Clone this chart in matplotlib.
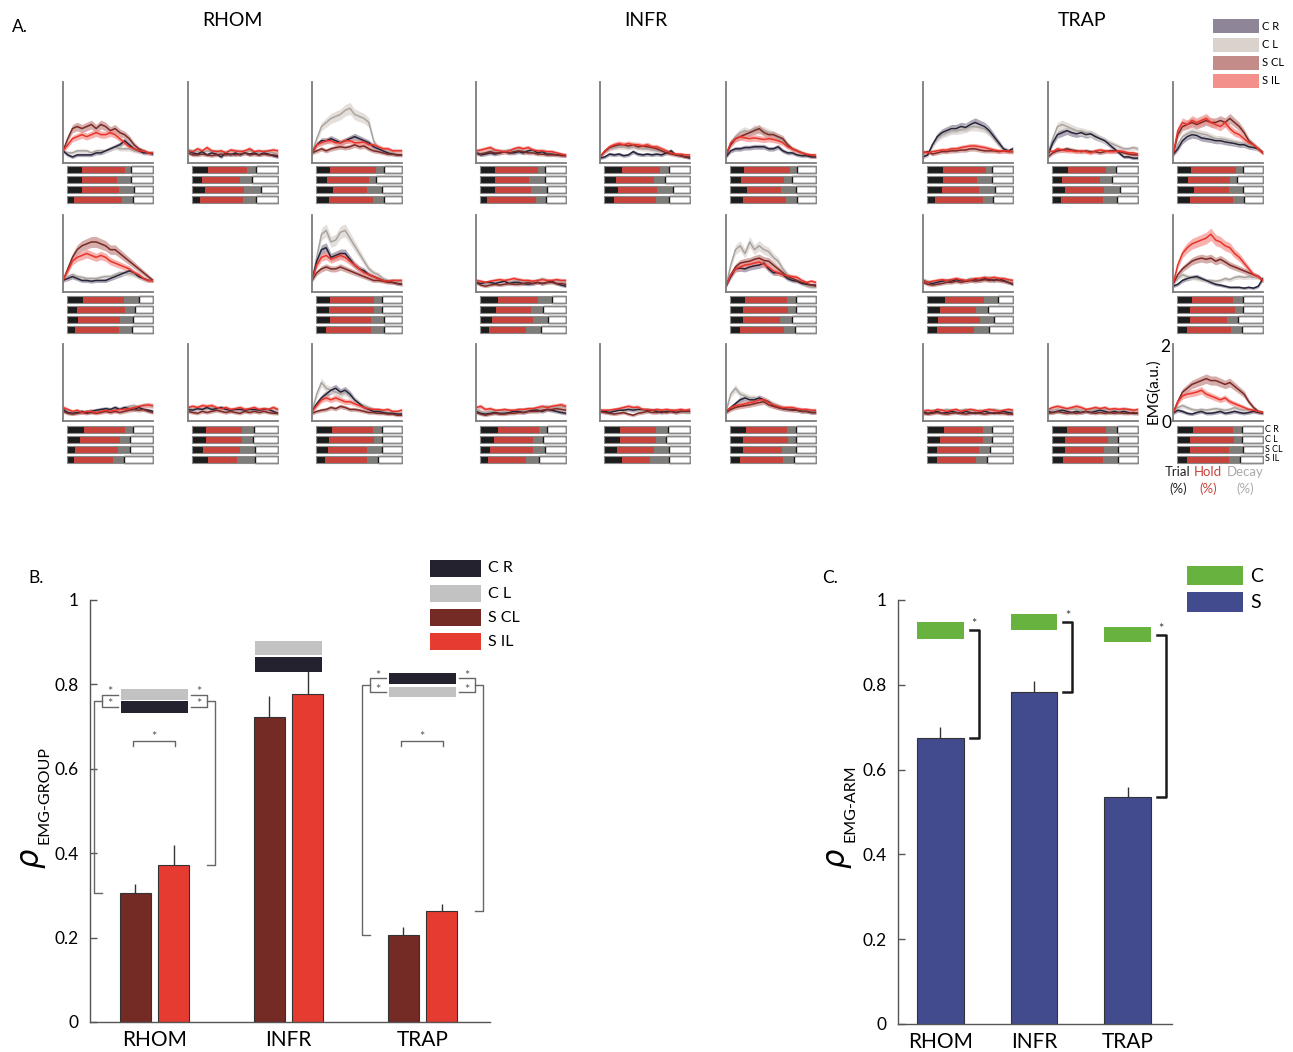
import matplotlib
matplotlib.use('Agg')
import matplotlib.pyplot as plt
from matplotlib.patches import Rectangle
import numpy as np

plt.rcParams['font.family'] = ['Lato', 'DejaVu Sans']

# ---- A: mean EMG traces (a.u.), order C R, C L, S CL, S IL ----
rhom_r1c1 = [
    [0.3,0.2,0.15,0.2,0.2,0.2,0.2,0.25,0.25,0.3,0.35,0.4,0.45,0.55,0.45,0.35,0.3,0.25,0.25,0.22],
    [0.3,0.25,0.25,0.3,0.3,0.3,0.25,0.3,0.3,0.3,0.35,0.4,0.35,0.35,0.35,0.3,0.3,0.28,0.25,0.25],
    [0.3,0.6,0.85,0.9,0.85,0.9,0.95,0.85,0.95,0.9,0.8,0.85,0.75,0.7,0.6,0.45,0.35,0.3,0.25,0.25],
    [0.3,0.45,0.6,0.65,0.7,0.65,0.7,0.75,0.7,0.7,0.75,0.7,0.6,0.5,0.4,0.35,0.3,0.3,0.25,0.25]]
rhom_r1c2 = [
    [0.3,0.25,0.22,0.28,0.2,0.25,0.22,0.15,0.25,0.2,0.25,0.2,0.25,0.22,0.25,0.2,0.25,0.22,0.18,0.15],
    [0.32,0.3,0.28,0.25,0.3,0.28,0.3,0.25,0.28,0.3,0.28,0.3,0.25,0.3,0.28,0.25,0.3,0.28,0.25,0.22],
    [0.25,0.2,0.2,0.22,0.2,0.18,0.2,0.22,0.2,0.22,0.2,0.22,0.25,0.2,0.22,0.2,0.22,0.2,0.2,0.18],
    [0.3,0.28,0.35,0.3,0.38,0.3,0.28,0.3,0.25,0.32,0.3,0.28,0.3,0.35,0.28,0.3,0.28,0.3,0.32,0.3]]
rhom_r1c3 = [
    [0.25,0.45,0.55,0.55,0.6,0.55,0.5,0.55,0.6,0.65,0.6,0.55,0.5,0.4,0.35,0.3,0.25,0.22,0.2,0.2],
    [0.25,0.6,0.9,1.0,1.1,1.15,1.2,1.3,1.35,1.2,1.15,1.1,1.0,0.55,0.35,0.3,0.28,0.25,0.22,0.2],
    [0.25,0.3,0.35,0.3,0.35,0.38,0.4,0.38,0.4,0.45,0.4,0.42,0.35,0.3,0.28,0.25,0.22,0.22,0.2,0.2],
    [0.25,0.45,0.5,0.55,0.55,0.5,0.5,0.55,0.55,0.5,0.5,0.52,0.45,0.45,0.4,0.35,0.35,0.3,0.3,0.3]]
rhom_r2c1 = [
    [0.3,0.35,0.4,0.35,0.3,0.3,0.28,0.3,0.3,0.3,0.35,0.4,0.45,0.5,0.55,0.5,0.4,0.35,0.3,0.3],
    [0.3,0.4,0.45,0.4,0.38,0.35,0.35,0.35,0.38,0.4,0.4,0.45,0.5,0.5,0.48,0.45,0.4,0.35,0.3,0.3],
    [0.3,0.6,0.9,1.1,1.2,1.25,1.3,1.3,1.25,1.2,1.1,1.1,1.0,0.9,0.8,0.7,0.6,0.5,0.4,0.3],
    [0.3,0.55,0.8,0.9,0.95,1.0,0.95,0.9,0.95,0.9,0.8,0.75,0.7,0.65,0.6,0.5,0.45,0.35,0.3,0.3]]
rhom_r2c3 = [
    [0.3,0.8,1.1,1.15,0.9,0.95,1.0,1.0,0.85,0.7,0.6,0.55,0.45,0.4,0.35,0.3,0.28,0.25,0.22,0.2],
    [0.3,0.9,1.5,1.6,1.3,1.35,1.55,1.6,1.4,1.2,1.0,0.8,0.6,0.5,0.45,0.35,0.3,0.3,0.28,0.25],
    [0.3,0.5,0.6,0.65,0.6,0.6,0.65,0.6,0.55,0.5,0.45,0.4,0.35,0.3,0.3,0.28,0.25,0.25,0.22,0.2],
    [0.3,0.7,0.9,0.95,0.85,0.9,0.95,0.9,0.8,0.7,0.6,0.5,0.45,0.4,0.35,0.3,0.28,0.3,0.3,0.3]]
rhom_r3c1 = [
    [0.3,0.22,0.2,0.22,0.25,0.22,0.25,0.28,0.3,0.32,0.3,0.35,0.3,0.35,0.32,0.3,0.35,0.3,0.28,0.25],
    [0.35,0.25,0.2,0.25,0.22,0.25,0.28,0.25,0.28,0.3,0.28,0.3,0.32,0.35,0.38,0.4,0.35,0.42,0.4,0.38],
    [0.25,0.2,0.18,0.2,0.22,0.2,0.22,0.2,0.22,0.25,0.22,0.25,0.22,0.25,0.28,0.3,0.28,0.3,0.25,0.22],
    [0.35,0.3,0.25,0.28,0.22,0.25,0.25,0.22,0.25,0.28,0.25,0.28,0.3,0.3,0.32,0.35,0.38,0.4,0.42,0.4]]
rhom_r3c2 = [
    [0.3,0.28,0.32,0.3,0.35,0.3,0.32,0.35,0.3,0.28,0.3,0.3,0.28,0.3,0.3,0.28,0.3,0.3,0.25,0.2],
    [0.35,0.3,0.35,0.32,0.3,0.35,0.32,0.3,0.32,0.3,0.3,0.32,0.3,0.3,0.28,0.3,0.32,0.3,0.35,0.28],
    [0.25,0.22,0.2,0.25,0.22,0.25,0.28,0.25,0.22,0.25,0.22,0.2,0.25,0.22,0.25,0.22,0.25,0.22,0.2,0.2],
    [0.35,0.38,0.35,0.4,0.38,0.4,0.35,0.32,0.35,0.3,0.32,0.35,0.3,0.32,0.35,0.3,0.32,0.3,0.35,0.3]]
rhom_r3c3 = [
    [0.25,0.45,0.6,0.7,0.8,0.85,0.75,0.8,0.7,0.55,0.45,0.35,0.3,0.25,0.25,0.22,0.2,0.2,0.18,0.18],
    [0.25,0.7,1.0,0.85,0.8,0.75,0.7,0.75,0.65,0.55,0.45,0.4,0.35,0.3,0.28,0.25,0.22,0.22,0.2,0.2],
    [0.2,0.25,0.28,0.3,0.35,0.32,0.38,0.35,0.3,0.3,0.28,0.25,0.22,0.22,0.2,0.2,0.18,0.18,0.15,0.15],
    [0.25,0.4,0.55,0.6,0.55,0.6,0.55,0.5,0.5,0.45,0.4,0.35,0.32,0.3,0.3,0.28,0.3,0.25,0.25,0.28]]

infr_r1c1 = [
    [0.25,0.2,0.22,0.25,0.22,0.25,0.28,0.25,0.25,0.28,0.25,0.3,0.32,0.25,0.28,0.22,0.22,0.2,0.2,0.18],
    [0.28,0.25,0.25,0.3,0.3,0.28,0.3,0.32,0.3,0.32,0.3,0.3,0.28,0.28,0.25,0.25,0.22,0.22,0.2,0.2],
    [0.25,0.22,0.25,0.28,0.25,0.25,0.28,0.25,0.28,0.3,0.28,0.25,0.25,0.22,0.22,0.2,0.2,0.2,0.18,0.18],
    [0.3,0.32,0.35,0.38,0.32,0.3,0.28,0.3,0.35,0.38,0.35,0.38,0.32,0.3,0.3,0.28,0.28,0.25,0.22,0.2]]
infr_r1c2 = [
    [0.12,0.15,0.22,0.2,0.22,0.18,0.2,0.28,0.22,0.2,0.22,0.2,0.22,0.2,0.25,0.3,0.2,0.18,0.15,0.12],
    [0.15,0.3,0.35,0.38,0.4,0.4,0.38,0.4,0.38,0.35,0.35,0.32,0.3,0.3,0.28,0.25,0.2,0.18,0.18,0.15],
    [0.15,0.28,0.38,0.42,0.45,0.45,0.42,0.45,0.4,0.42,0.4,0.38,0.35,0.3,0.25,0.22,0.2,0.18,0.15,0.15],
    [0.15,0.3,0.4,0.45,0.48,0.45,0.48,0.45,0.45,0.42,0.45,0.4,0.4,0.35,0.3,0.25,0.22,0.22,0.2,0.2]]
infr_r1c3 = [
    [0.15,0.3,0.35,0.35,0.38,0.38,0.4,0.4,0.4,0.35,0.35,0.4,0.3,0.25,0.25,0.2,0.18,0.18,0.15,0.15],
    [0.2,0.5,0.65,0.75,0.8,0.75,0.85,0.8,0.8,0.75,0.7,0.6,0.55,0.45,0.35,0.3,0.25,0.22,0.18,0.15],
    [0.2,0.45,0.6,0.65,0.7,0.75,0.8,0.85,0.75,0.7,0.7,0.65,0.6,0.45,0.35,0.3,0.25,0.2,0.18,0.15],
    [0.2,0.5,0.6,0.65,0.62,0.6,0.62,0.6,0.58,0.6,0.58,0.55,0.5,0.4,0.35,0.3,0.25,0.22,0.2,0.2]]
infr_r2c1 = [
    [0.25,0.22,0.25,0.25,0.22,0.25,0.28,0.22,0.25,0.25,0.22,0.2,0.22,0.25,0.22,0.25,0.28,0.22,0.18,0.15],
    [0.28,0.22,0.2,0.22,0.25,0.25,0.28,0.25,0.28,0.3,0.28,0.25,0.28,0.3,0.35,0.3,0.28,0.3,0.28,0.25],
    [0.25,0.18,0.15,0.18,0.2,0.18,0.2,0.22,0.2,0.2,0.22,0.25,0.22,0.25,0.22,0.25,0.25,0.22,0.22,0.2],
    [0.3,0.28,0.25,0.28,0.3,0.32,0.3,0.32,0.35,0.32,0.3,0.3,0.28,0.3,0.32,0.3,0.3,0.32,0.3,0.3]]
infr_r2c3 = [
    [0.15,0.4,0.6,0.62,0.6,0.65,0.68,0.7,0.75,0.6,0.5,0.5,0.45,0.35,0.3,0.28,0.22,0.2,0.18,0.18],
    [0.15,0.7,1.1,1.2,1.0,1.3,1.1,1.2,1.1,1.05,0.9,0.8,0.6,0.45,0.35,0.3,0.22,0.15,0.12,0.12],
    [0.15,0.45,0.65,0.75,0.78,0.8,0.85,0.88,0.82,0.8,0.7,0.6,0.5,0.4,0.35,0.3,0.25,0.22,0.18,0.15],
    [0.15,0.45,0.6,0.65,0.7,0.72,0.75,0.78,0.72,0.65,0.55,0.5,0.45,0.42,0.4,0.38,0.3,0.25,0.28,0.25]]
infr_r3c1 = [
    [0.25,0.2,0.18,0.2,0.22,0.2,0.2,0.22,0.25,0.25,0.22,0.25,0.28,0.28,0.25,0.3,0.28,0.25,0.22,0.2],
    [0.3,0.25,0.22,0.25,0.25,0.28,0.25,0.28,0.25,0.3,0.28,0.3,0.32,0.3,0.35,0.38,0.35,0.35,0.38,0.35],
    [0.22,0.18,0.15,0.18,0.2,0.18,0.18,0.2,0.2,0.22,0.22,0.25,0.25,0.25,0.28,0.3,0.3,0.32,0.3,0.28],
    [0.35,0.38,0.3,0.32,0.28,0.28,0.3,0.28,0.28,0.3,0.3,0.32,0.32,0.35,0.38,0.35,0.38,0.4,0.42,0.38]]
infr_r3c2 = [
    [0.25,0.25,0.22,0.25,0.28,0.28,0.3,0.28,0.3,0.3,0.28,0.28,0.25,0.22,0.25,0.25,0.22,0.25,0.25,0.25],
    [0.28,0.25,0.25,0.28,0.28,0.3,0.3,0.32,0.3,0.28,0.3,0.28,0.28,0.28,0.25,0.28,0.25,0.28,0.22,0.22],
    [0.25,0.22,0.2,0.18,0.2,0.22,0.18,0.15,0.2,0.22,0.25,0.22,0.22,0.25,0.22,0.25,0.22,0.25,0.25,0.25],
    [0.28,0.28,0.28,0.3,0.32,0.35,0.38,0.35,0.36,0.3,0.3,0.28,0.3,0.28,0.3,0.28,0.28,0.3,0.28,0.3]]
infr_r3c3 = [
    [0.25,0.35,0.45,0.55,0.6,0.55,0.55,0.6,0.55,0.5,0.4,0.35,0.32,0.3,0.3,0.28,0.25,0.25,0.22,0.22],
    [0.25,0.7,0.85,0.7,0.65,0.6,0.6,0.55,0.55,0.5,0.45,0.4,0.35,0.3,0.3,0.3,0.28,0.28,0.25,0.25],
    [0.22,0.3,0.35,0.38,0.4,0.42,0.45,0.48,0.5,0.42,0.38,0.35,0.32,0.3,0.28,0.28,0.25,0.25,0.22,0.22],
    [0.25,0.35,0.4,0.42,0.45,0.48,0.5,0.55,0.55,0.48,0.42,0.38,0.35,0.35,0.35,0.32,0.3,0.3,0.28,0.28]]

trap_r1c1 = [
    [0.15,0.2,0.45,0.65,0.75,0.8,0.85,0.85,0.9,0.88,0.95,1.0,0.95,0.9,0.8,0.65,0.5,0.35,0.3,0.35],
    [0.15,0.2,0.45,0.6,0.7,0.75,0.8,0.8,0.82,0.85,0.9,0.9,0.88,0.85,0.75,0.6,0.45,0.35,0.3,0.3],
    [0.25,0.28,0.22,0.25,0.28,0.28,0.3,0.3,0.32,0.32,0.35,0.35,0.32,0.3,0.3,0.3,0.28,0.3,0.28,0.28],
    [0.28,0.25,0.28,0.3,0.32,0.32,0.35,0.35,0.38,0.4,0.42,0.42,0.4,0.38,0.35,0.32,0.3,0.3,0.3,0.28]]
trap_r1c2 = [
    [0.2,0.5,0.7,0.75,0.8,0.75,0.72,0.75,0.7,0.72,0.65,0.6,0.55,0.45,0.35,0.25,0.15,0.15,0.12,0.12],
    [0.25,0.6,0.9,0.95,0.9,0.85,0.8,0.78,0.75,0.72,0.68,0.6,0.55,0.5,0.45,0.4,0.35,0.35,0.38,0.35],
    [0.15,0.25,0.3,0.32,0.35,0.32,0.3,0.28,0.3,0.28,0.28,0.25,0.28,0.3,0.3,0.28,0.25,0.22,0.2,0.2],
    [0.3,0.28,0.35,0.32,0.3,0.3,0.28,0.3,0.28,0.25,0.3,0.32,0.3,0.28,0.28,0.3,0.28,0.25,0.25,0.22]]
trap_r1c3 = [
    [0.2,0.35,0.55,0.65,0.7,0.68,0.62,0.6,0.58,0.55,0.55,0.52,0.5,0.48,0.45,0.45,0.4,0.38,0.35,0.25],
    [0.2,0.45,0.65,0.72,0.78,0.75,0.72,0.7,0.65,0.6,0.6,0.58,0.55,0.52,0.5,0.48,0.45,0.4,0.35,0.25],
    [0.2,0.7,0.9,0.95,1.0,0.95,1.0,1.05,1.0,1.0,1.05,1.0,1.1,1.0,0.9,0.75,0.55,0.45,0.35,0.25],
    [0.2,0.8,1.0,0.95,1.05,1.0,1.05,1.1,1.0,0.95,0.9,1.0,0.85,0.75,0.7,0.6,0.5,0.45,0.35,0.25]]
trap_r2c1 = [
    [0.3,0.25,0.22,0.25,0.28,0.3,0.28,0.32,0.3,0.28,0.3,0.32,0.3,0.35,0.32,0.3,0.35,0.3,0.25,0.2],
    [0.32,0.28,0.25,0.28,0.3,0.3,0.32,0.3,0.32,0.3,0.35,0.32,0.35,0.35,0.38,0.35,0.32,0.3,0.3,0.28],
    [0.25,0.2,0.18,0.2,0.22,0.25,0.25,0.28,0.25,0.28,0.3,0.28,0.3,0.32,0.3,0.32,0.3,0.28,0.25,0.22],
    [0.3,0.25,0.28,0.3,0.32,0.3,0.32,0.35,0.32,0.3,0.32,0.35,0.35,0.38,0.35,0.38,0.35,0.35,0.32,0.3]]
trap_r2c3 = [
    [0.15,0.2,0.3,0.35,0.38,0.4,0.35,0.3,0.25,0.2,0.18,0.15,0.12,0.12,0.12,0.1,0.12,0.1,0.15,0.35],
    [0.2,0.35,0.45,0.4,0.38,0.35,0.32,0.3,0.3,0.28,0.3,0.35,0.32,0.38,0.4,0.38,0.4,0.38,0.4,0.3],
    [0.2,0.45,0.6,0.7,0.8,0.85,0.88,0.85,0.88,0.8,0.85,0.78,0.7,0.65,0.6,0.55,0.5,0.45,0.4,0.3],
    [0.2,0.7,1.0,1.15,1.25,1.3,1.35,1.4,1.5,1.35,1.3,1.2,1.15,1.0,0.9,0.75,0.6,0.45,0.4,0.3]]
trap_r3c1 = [
    [0.25,0.2,0.22,0.25,0.2,0.22,0.25,0.22,0.2,0.25,0.22,0.2,0.22,0.25,0.22,0.2,0.22,0.25,0.22,0.2],
    [0.28,0.25,0.28,0.25,0.28,0.3,0.28,0.25,0.28,0.3,0.28,0.25,0.28,0.25,0.28,0.3,0.28,0.25,0.25,0.25],
    [0.2,0.18,0.2,0.22,0.2,0.18,0.2,0.22,0.2,0.18,0.2,0.22,0.2,0.18,0.2,0.22,0.2,0.2,0.18,0.18],
    [0.25,0.28,0.25,0.3,0.28,0.25,0.28,0.3,0.25,0.28,0.3,0.28,0.25,0.28,0.3,0.28,0.25,0.28,0.3,0.28]]
trap_r3c2 = [
    [0.25,0.22,0.25,0.28,0.25,0.22,0.25,0.22,0.25,0.22,0.25,0.28,0.25,0.22,0.25,0.22,0.25,0.22,0.2,0.2],
    [0.3,0.28,0.3,0.28,0.3,0.32,0.3,0.28,0.3,0.28,0.3,0.28,0.3,0.3,0.28,0.3,0.28,0.3,0.28,0.28],
    [0.2,0.22,0.25,0.22,0.2,0.22,0.2,0.22,0.25,0.22,0.2,0.22,0.2,0.22,0.2,0.22,0.2,0.2,0.22,0.2],
    [0.3,0.35,0.38,0.35,0.32,0.35,0.38,0.35,0.3,0.32,0.35,0.32,0.35,0.3,0.32,0.3,0.32,0.3,0.28,0.3]]
trap_r3c3 = [
    [0.2,0.28,0.25,0.2,0.18,0.22,0.25,0.2,0.2,0.22,0.25,0.2,0.22,0.25,0.22,0.2,0.22,0.25,0.22,0.2],
    [0.25,0.35,0.4,0.35,0.3,0.28,0.3,0.28,0.3,0.32,0.3,0.28,0.3,0.35,0.3,0.28,0.3,0.28,0.25,0.22],
    [0.2,0.5,0.75,0.85,0.95,1.0,1.05,1.1,1.05,1.05,1.0,0.95,1.0,0.9,0.8,0.7,0.5,0.35,0.25,0.22],
    [0.2,0.5,0.65,0.7,0.72,0.75,0.8,0.7,0.65,0.6,0.55,0.6,0.5,0.45,0.4,0.35,0.3,0.28,0.25,0.22]]

# ---- A: phase fractions (trial, hold, decay) per condition C R, C L, S CL, S IL ----
rhom_r1c1_phase = [(.18,.49,.07), (.18,.40,.165), (.18,.42,.18), (.09,.55,.12)]
rhom_r1c2_phase = [(.19,.45,.10), (.12,.44,.14), (.15,.45,.20), (.10,.49,.15)]
rhom_r1c3_phase = [(.17,.52,.10), (.13,.49,.08), (.20,.39,.18), (.16,.50,.13)]
rhom_r2c1_phase = [(.19,.47,.17), (.12,.55,.12), (.13,.48,.15), (.10,.50,.15)]
rhom_r2c3_phase = [(.17,.50,.10), (.15,.52,.10), (.17,.47,.15), (.12,.52,.15)]
rhom_r3c1_phase = [(.20,.47,.10), (.16,.45,.12), (.10,.49,.14), (.09,.44,.13)]
rhom_r3c2_phase = [(.17,.41,.14), (.17,.41,.13), (.13,.43,.17), (.19,.33,.21)]
rhom_r3c3_phase = [(.19,.47,.11), (.16,.51,.10), (.14,.45,.17), (.11,.48,.13)]
infr_r1c1_phase = [(.18,.49,.08), (.18,.39,.18), (.18,.41,.19), (.09,.56,.11)]
infr_r1c2_phase = [(.21,.44,.10), (.14,.44,.13), (.17,.45,.18), (.12,.48,.15)]
infr_r1c3_phase = [(.17,.52,.09), (.13,.50,.09), (.20,.39,.17), (.15,.50,.13)]
infr_r2c1_phase = [(.21,.46,.16), (.19,.40,.14), (.14,.48,.17), (.11,.43,.17)]
infr_r2c3_phase = [(.18,.48,.11), (.16,.51,.09), (.16,.42,.14), (.12,.51,.12)]
infr_r3c1_phase = [(.21,.47,.10), (.17,.45,.11), (.12,.49,.14), (.10,.44,.14)]
infr_r3c2_phase = [(.19,.41,.14), (.19,.41,.12), (.15,.43,.17), (.21,.33,.21)]
infr_r3c3_phase = [(.19,.47,.11), (.16,.51,.10), (.15,.45,.17), (.12,.49,.13)]
trap_r1c1_phase = [(.19,.49,.07), (.19,.39,.17), (.18,.42,.19), (.10,.55,.12)]
trap_r1c2_phase = [(.19,.44,.11), (.12,.44,.14), (.16,.44,.19), (.11,.48,.16)]
trap_r1c3_phase = [(.17,.51,.09), (.13,.49,.08), (.20,.40,.17), (.15,.50,.13)]
trap_r2c1_phase = [(.21,.45,.16), (.16,.41,.14), (.13,.48,.17), (.12,.43,.17)]
trap_r2c3_phase = [(.18,.47,.12), (.16,.51,.09), (.16,.42,.13), (.12,.51,.12)]
trap_r3c1_phase = [(.20,.45,.10), (.15,.50,.10), (.12,.48,.13), (.12,.45,.12)]
trap_r3c2_phase = [(.18,.45,.12), (.15,.50,.12), (.15,.45,.16), (.13,.46,.17)]
trap_r3c3_phase = [(.19,.46,.10), (.16,.50,.09), (.15,.45,.16), (.12,.48,.13)]

conditions = ['C R', 'C L', 'S CL', 'S IL']

# ---- B: EMG-group correlation ----
groups = ['RHOM', 'INFR', 'TRAP']
scl_mean = [0.305, 0.723, 0.205]
scl_err = [0.022, 0.050, 0.020]
sil_mean = [0.372, 0.777, 0.263]
sil_err = [0.048, 0.055, 0.016]
cr_ref = [0.747, 0.847, 0.815]
cr_ref_sem = [0.014, 0.018, 0.013]
cl_ref = [0.776, 0.886, 0.781]
cl_ref_sem = [0.013, 0.017, 0.012]
sig_groups = ['RHOM', 'TRAP']

# ---- C: EMG-arm correlation ----
arm_mean = [0.675, 0.783, 0.535]
arm_err = [0.025, 0.027, 0.025]
c_ref = [0.929, 0.948, 0.918]
c_ref_sem = [0.020, 0.019, 0.018]

LINE_COLORS = ['#26243a', '#a9a4a0', '#7b2a26', '#e8342a']
BAND_COLORS = ['#8e8599', '#d9d2cd', '#c48c88', '#f4908c']
TRIAL_C, HOLD_C, DECAY_C = '#1c1c1c', '#c8433c', '#7f7d7a'

W, H = 1293, 1052
fig = plt.figure(figsize=(W / 100, H / 100), dpi=100)


def px_axes(x0, y0, x1, y1):
    return fig.add_axes([x0 / W, 1 - y1 / H, (x1 - x0) / W, (y1 - y0) / H])


def px_text(x, y, s, **kw):
    kw.setdefault('ha', 'center')
    kw.setdefault('va', 'center')
    fig.text(x / W, 1 - y / H, s, **kw)


def px_rect(x0, y0, x1, y1, color):
    fig.add_artist(Rectangle((x0 / W, 1 - y1 / H), (x1 - x0) / W, (y1 - y0) / H,
                             transform=fig.transFigure, facecolor=color, edgecolor='none'))


ROW_TOP = [82, 215, 344]
ROW_BOT = [163, 292, 421]
BAR_TOP = [164.5, 294.5, 424.5]
COL_X = {'RHOM': [63, 188, 312], 'INFR': [476, 600, 726], 'TRAP': [923, 1048, 1173]}


def draw_panel(muscle, row, col, traces, phases):
    x0 = COL_X[muscle][col]
    ax = px_axes(x0, ROW_TOP[row], x0 + 90, ROW_BOT[row])
    t = np.arange(len(traces[0]))
    for k in range(4):
        y = np.array(traces[k])
        sem = 0.025 + 0.09 * y
        ax.fill_between(t, y - sem, y + sem, color=BAND_COLORS[k], alpha=0.7, lw=0)
    for k in [1, 0, 2, 3]:
        ax.plot(t, traces[k], color=LINE_COLORS[k], lw=1.1)
    ax.set_xlim(0, len(t) - 1)
    ax.set_ylim(0, 2)
    ax.set_xticks([])
    ax.set_yticks([])
    for s in ['top', 'right']:
        ax.spines[s].set_visible(False)
    for s in ['left', 'bottom']:
        ax.spines[s].set_color('#7c7c7c')
        ax.spines[s].set_linewidth(1.3)
    ax.patch.set_alpha(0)

    bx = px_axes(x0 + 3, BAR_TOP[row], x0 + 91, BAR_TOP[row] + 40)
    bx.set_xlim(-0.006, 1.006)
    bx.set_ylim(3.5, -0.5)
    bx.axis('off')
    for i, (tr, ho, de) in enumerate(phases):
        bx.barh(i, tr, left=0, height=0.7, color=TRIAL_C, lw=0)
        bx.barh(i, ho, left=tr, height=0.7, color=HOLD_C, lw=0)
        bx.barh(i, de, left=tr + ho, height=0.7, color=DECAY_C, lw=0)
        bx.barh(i, 1 - tr - ho - de, left=tr + ho + de, height=0.7, color='white',
                edgecolor='#1a1a1a', lw=1.0)
        bx.barh(i, 1, left=0, height=0.7, fill=False, edgecolor='#8a8a8a', lw=0.8)
    return ax


panels = [
    ('RHOM', 0, 0, rhom_r1c1, rhom_r1c1_phase), ('RHOM', 0, 1, rhom_r1c2, rhom_r1c2_phase),
    ('RHOM', 0, 2, rhom_r1c3, rhom_r1c3_phase), ('RHOM', 1, 0, rhom_r2c1, rhom_r2c1_phase),
    ('RHOM', 1, 2, rhom_r2c3, rhom_r2c3_phase), ('RHOM', 2, 0, rhom_r3c1, rhom_r3c1_phase),
    ('RHOM', 2, 1, rhom_r3c2, rhom_r3c2_phase), ('RHOM', 2, 2, rhom_r3c3, rhom_r3c3_phase),
    ('INFR', 0, 0, infr_r1c1, infr_r1c1_phase), ('INFR', 0, 1, infr_r1c2, infr_r1c2_phase),
    ('INFR', 0, 2, infr_r1c3, infr_r1c3_phase), ('INFR', 1, 0, infr_r2c1, infr_r2c1_phase),
    ('INFR', 1, 2, infr_r2c3, infr_r2c3_phase), ('INFR', 2, 0, infr_r3c1, infr_r3c1_phase),
    ('INFR', 2, 1, infr_r3c2, infr_r3c2_phase), ('INFR', 2, 2, infr_r3c3, infr_r3c3_phase),
    ('TRAP', 0, 0, trap_r1c1, trap_r1c1_phase), ('TRAP', 0, 1, trap_r1c2, trap_r1c2_phase),
    ('TRAP', 0, 2, trap_r1c3, trap_r1c3_phase), ('TRAP', 1, 0, trap_r2c1, trap_r2c1_phase),
    ('TRAP', 1, 2, trap_r2c3, trap_r2c3_phase), ('TRAP', 2, 0, trap_r3c1, trap_r3c1_phase),
    ('TRAP', 2, 1, trap_r3c2, trap_r3c2_phase), ('TRAP', 2, 2, trap_r3c3, trap_r3c3_phase),
]
for m, r, c, tr, ph in panels:
    draw_panel(m, r, c, tr, ph)

# panel A headings and legend
px_text(12, 27, 'A.', ha='left', fontsize=12.5)
for name, xc in zip(groups, [232, 646, 1082]):
    px_text(xc, 21, name, fontsize=14)
for i, (lab, col) in enumerate(zip(conditions, BAND_COLORS)):
    y0 = [19, 38, 56, 74][i]
    px_rect(1213, y0, 1259, y0 + 14, col)
    px_text(1262, y0 + 7, lab, ha='left', fontsize=8)

# axis annotations on the bottom-right trace panel
px_text(1165, 347, '2', fontsize=12.5)
px_text(1166, 423, '0', fontsize=12.5)
px_text(1153, 391, 'EMG(a.u.)', rotation=90, fontsize=11)
for i, lab in enumerate(conditions):
    px_text(1265, 429 + 10 * i, lab, ha='left', fontsize=6.5)
px_text(1178, 472, 'Trial', fontsize=9.5, color='#222222')
px_text(1178, 489, '(%)', fontsize=9.5, color='#222222')
px_text(1208, 472, 'Hold', fontsize=9.5, color=HOLD_C)
px_text(1208, 489, '(%)', fontsize=9.5, color=HOLD_C)
px_text(1245, 472, 'Decay', fontsize=9.5, color='#aaaaaa')
px_text(1245, 489, '(%)', fontsize=9.5, color='#aaaaaa')


def style_bar_axes(ax):
    for s in ['top', 'right']:
        ax.spines[s].set_visible(False)
    for s in ['left', 'bottom']:
        ax.spines[s].set_color('#555555')
        ax.spines[s].set_linewidth(1.0)
    ax.set_ylim(0, 1)
    ax.set_yticks([0, 0.2, 0.4, 0.6, 0.8, 1])
    ax.set_yticklabels(['0', '0.2', '0.4', '0.6', '0.8', '1'])
    ax.tick_params(axis='y', direction='in', length=5, width=1, color='#555555',
                   labelsize=12.5, pad=8)
    ax.set_xticks([1, 2, 3])
    ax.set_xticklabels(groups)
    ax.tick_params(axis='x', length=0, labelsize=15, pad=6)
    ax.patch.set_alpha(0)


# ---- B ----
axb = px_axes(90, 600, 490, 1022)
style_bar_axes(axb)
axb.set_xlim(0.519, 3.504)
xg = np.arange(1, 4)
off, bw = 0.143, 0.23
axb.vlines(xg - off, scl_mean, np.array(scl_mean) + scl_err, color='#333333', lw=1.0, zorder=1)
axb.vlines(xg + off, sil_mean, np.array(sil_mean) + sil_err, color='#333333', lw=1.0, zorder=1)
axb.bar(xg - off, scl_mean, bw, color='#742a25', edgecolor='#333333', lw=0.8, zorder=2)
axb.bar(xg + off, sil_mean, bw, color='#e63b30', edgecolor='#333333', lw=0.8, zorder=2)
axb.bar(xg, 2 * np.array(cr_ref_sem), 0.5, bottom=np.array(cr_ref) - cr_ref_sem,
        color='#25222f', lw=0, zorder=3)
axb.bar(xg, 2 * np.array(cl_ref_sem), 0.5, bottom=np.array(cl_ref) - cl_ref_sem,
        color='#c2c2c2', lw=0, zorder=3)

bc = '#666666'
for g in sig_groups:
    i = groups.index(g)
    xc = i + 1
    lo, hi = min(cr_ref[i], cl_ref[i]), max(cr_ref[i], cl_ref[i])
    mid = (lo + hi) / 2
    for sgn, bar_top in [(-1, scl_mean[i]), (1, sil_mean[i])]:
        xin, xs, xb = xc + sgn * 0.27, xc + sgn * 0.39, xc + sgn * 0.45
        axb.plot([xin, xs, xs, xin], [hi, hi, lo, lo], color=bc, lw=1.0)
        for yv in (hi, lo):
            axb.text((xin + xs) / 2, yv + 0.006, '*', ha='center', va='center',
                     fontsize=9, color='#555555')
        axb.plot([xs, xb, xb, xs], [mid, mid, bar_top, bar_top], color=bc, lw=1.0)
    axb.plot([xc - 0.16, xc - 0.16, xc + 0.15, xc + 0.15], [0.654, 0.666, 0.666, 0.654],
             color=bc, lw=1.0)
    axb.text(xc - 0.005, 0.676, '*', ha='center', va='center', fontsize=9, color='#555555')

px_text(28, 578, 'B.', ha='left', fontsize=12.5)
px_text(34, 858, r'$\rho$', rotation=90, fontsize=22)
px_text(45, 795, 'EMG-GROUP', rotation=90, fontsize=11.5)
for i, (lab, col) in enumerate(zip(conditions, ['#25222f', '#c2c2c2', '#742a25', '#e63b30'])):
    y0 = [560, 585, 609, 633][i]
    px_rect(430, y0, 481, y0 + 17, col)
    px_text(488, y0 + 8.5, lab, ha='left', fontsize=11.5)

# ---- C ----
axc = px_axes(898, 600, 1172, 1024)
style_bar_axes(axc)
axc.set_xlim(0.547, 3.475)
axc.vlines(xg, arm_mean, np.array(arm_mean) + arm_err, color='#333333', lw=1.0, zorder=1)
axc.bar(xg, arm_mean, 0.5, color='#424b8d', edgecolor='#333333', lw=0.8, zorder=2)
axc.bar(xg, 2 * np.array(c_ref_sem), 0.5, bottom=np.array(c_ref) - c_ref_sem,
        color='#68b23f', lw=0, zorder=3)
for i in range(3):
    xa, xv = xg[i] + 0.315, xg[i] + 0.41
    axc.plot([xa, xv, xv, xa], [c_ref[i], c_ref[i], arm_mean[i], arm_mean[i]],
             color='#1a1a1a', lw=1.8)
    axc.text(xg[i] + 0.36, c_ref[i] + 0.014, '*', ha='center', va='center',
             fontsize=9, color='#333333')

px_text(822, 578, 'C.', ha='left', fontsize=12.5)
px_text(840, 858, r'$\rho$', rotation=90, fontsize=22)
px_text(851, 803, 'EMG-ARM', rotation=90, fontsize=11.5)
px_rect(1187, 566, 1243, 585, '#68b23f')
px_rect(1187, 592, 1243, 612, '#424b8d')
px_text(1250, 576, 'C', ha='left', fontsize=14)
px_text(1250, 602, 'S', ha='left', fontsize=14)

fig.savefig('out.png', dpi=100)
